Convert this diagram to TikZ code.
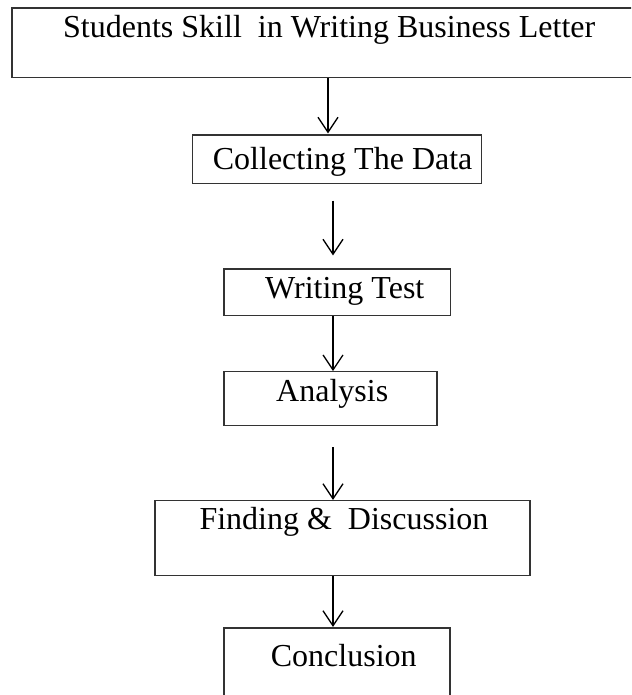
\documentclass[tikz,border=0pt]{standalone}
\usepackage{fontspec}
\setmainfont{Liberation Serif}
\usetikzlibrary{arrows.meta,calc}
\begin{document}
\begin{tikzpicture}[x=1pt,y=1pt,
  box/.style={draw=black!80,line width=1.2pt,rectangle,inner sep=0pt},
  lbl/.style={anchor=base west,inner sep=0pt,font=\fontsize{32}{38}\selectfont},
  arr/.style={draw=black,line width=1.3pt,-{Straight Barb[length=15pt,width=20pt,line width=1.3pt]}}]
\clip (0,0) rectangle (631,695);
\fill[white] (0,0) rectangle (631,695);
\coordinate (xa) at (328,0);
\coordinate (xb) at (333,0);
% boxes
\node[box,minimum width=633pt,minimum height=69.5pt] (b1) at (328.5,652.25) {};
\node[box,minimum width=289pt,minimum height=48.5pt] (b2) at (337.2,535.75) {};
\node[box,minimum width=226.7pt,minimum height=46.7pt] (b3) at (337.35,402.65) {};
\node[box,minimum width=213pt,minimum height=53.8pt] (b4) at (330.5,296.4) {};
\node[box,minimum width=375pt,minimum height=75.2pt] (b5) at (342.5,156.9) {};
\node[box,minimum width=226pt,minimum height=77pt] (b6) at (337,28.5) {};
% texts
\node[lbl] (t1) at (63,657) {Students Skill\ \ in Writing Business Letter};
\node[lbl] (t2) at (212.7,525) {Collecting The Data};
\node[lbl] (t3) at (265,396) {Writing Test};
\node[lbl] (t4) at (276,293.3) {Analysis};
\node[lbl] (t5) at (199.3,165) {Finding \&\ \ Discussion};
\node[lbl] (t6) at (270.7,28.3) {Conclusion};
% arrows
\draw[arr] (b1.south -| xa) -- ($(b2.north -| xa)+(0,1)$);
\draw[arr] ($(b2.south -| xb)+(0,-16.5)$) -- ($(b3.north -| xb)+(0,13)$);
\draw[arr] (b3.south -| xb) -- (b4.north -| xb);
\draw[arr] ($(b4.south -| xb)+(0,-21)$) -- (b5.north -| xb);
\draw[arr] (b5.south -| xb) -- ($(b6.north -| xb)+(0,0.5)$);
\end{tikzpicture}
\end{document}
